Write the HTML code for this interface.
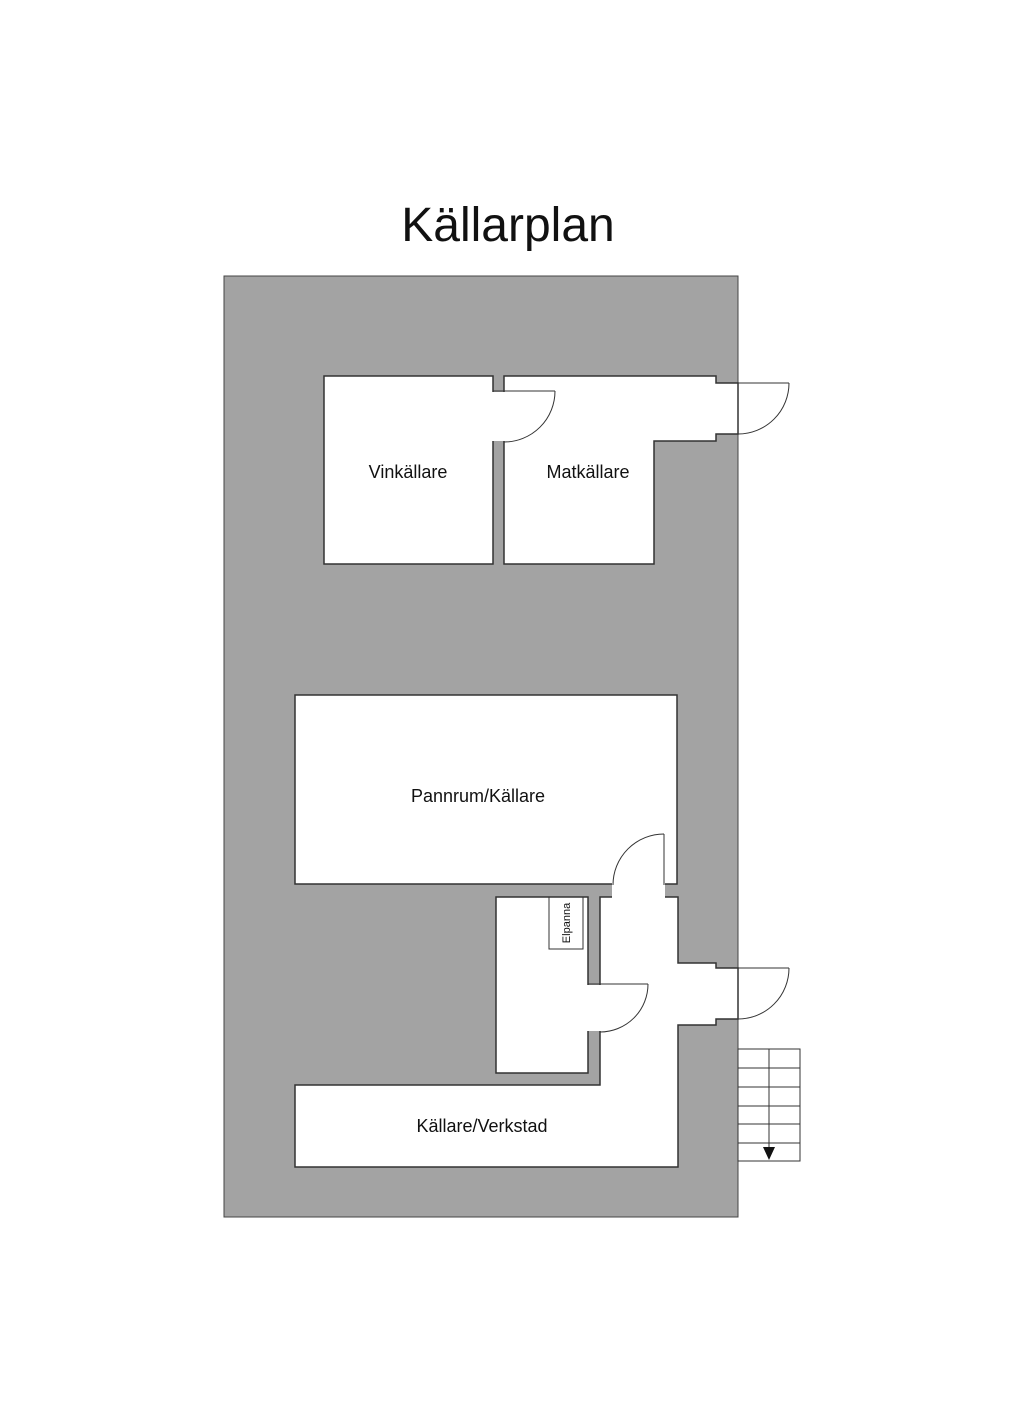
<!DOCTYPE html>
<html><head><meta charset="utf-8"><style>
html,body{margin:0;padding:0;background:#fff;width:1024px;height:1420px;overflow:hidden}
svg{display:block}
text{font-family:"Liberation Sans",sans-serif;fill:#111}
</style></head><body>
<svg width="1024" height="1420" viewBox="0 0 1024 1420">
<text x="508" y="241" font-size="48" text-anchor="middle">Källarplan</text>
<rect x="224" y="276" width="514" height="941" fill="#a3a3a3" stroke="#444" stroke-width="1"/>
<g fill="#fff" stroke="#333" stroke-width="1.5">
<rect x="324" y="376" width="169" height="188"/>
<polygon points="504,376 716,376 716,383 738,383 738,434 716,434 716,441 654,441 654,564 504,564"/>
<polygon points="295,695 677,695 677,884 664,884 664,897 678,897 678,963 716,963 716,968 738,968 738,1019 716,1019 716,1025 678,1025 678,1167 295,1167 295,1085 600,1085 600,897 613,897 613,884 295,884"/>
<rect x="496" y="897" width="92" height="176"/>
</g>
<g fill="#fff" stroke="none">
<rect x="492" y="392" width="13" height="49"/>
<rect x="587" y="985" width="14" height="46"/>
<rect x="612" y="883" width="53" height="15"/>
<rect x="714" y="384" width="23" height="49"/>
<rect x="714" y="969" width="23" height="49"/>
</g>
<g fill="none" stroke="#333" stroke-width="1">
<line x1="738" y1="383" x2="738" y2="434"/>
<line x1="738" y1="968" x2="738" y2="1019"/>
<line x1="493" y1="391" x2="555" y2="391"/>
<path d="M555,391 A51,51 0 0 1 504,442"/>
<line x1="716" y1="383" x2="789" y2="383"/>
<path d="M789,383 A51,51 0 0 1 738,434"/>
<line x1="716" y1="968" x2="789" y2="968"/>
<path d="M789,968 A51,51 0 0 1 738,1019"/>
<line x1="664" y1="834" x2="664" y2="885"/>
<path d="M664,834 A51,51 0 0 0 613,885"/>
<line x1="588" y1="984" x2="648" y2="984"/>
<path d="M648,984 A48,48 0 0 1 600,1032"/>
<rect x="549" y="897" width="34" height="52"/>
<rect x="738" y="1049" width="62" height="112"/>
<line x1="738" y1="1068" x2="800" y2="1068"/>
<line x1="738" y1="1087" x2="800" y2="1087"/>
<line x1="738" y1="1106" x2="800" y2="1106"/>
<line x1="738" y1="1124" x2="800" y2="1124"/>
<line x1="738" y1="1143" x2="800" y2="1143"/>
<line x1="769" y1="1049" x2="769" y2="1150"/>
</g>
<polygon points="763,1147 775,1147 769,1160" fill="#111"/>
<g font-size="18" text-anchor="middle">
<text x="408" y="478">Vinkällare</text>
<text x="588" y="478">Matkällare</text>
<text x="478" y="802">Pannrum/Källare</text>
<text x="482" y="1132">Källare/Verkstad</text>
</g>
<text x="0" y="0" font-size="11" text-anchor="middle" transform="translate(570,923) rotate(-90)">Elpanna</text>
</svg>
</body></html>
